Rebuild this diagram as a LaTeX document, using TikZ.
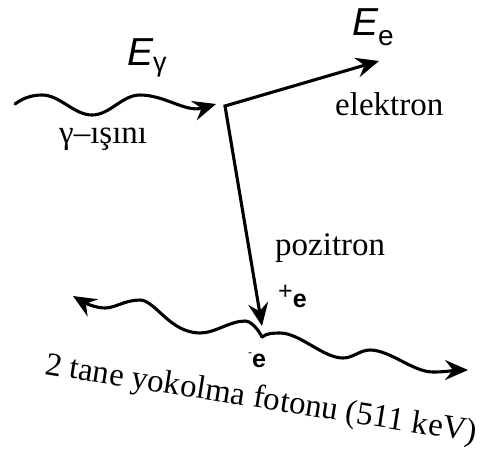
\documentclass[tikz,border=0pt]{standalone}
\usepackage{fontspec}
\setmainfont{Liberation Serif}
\newfontfamily\hv{Liberation Sans}
\usetikzlibrary{arrows.meta, positioning}

\newcommand{\fs}[1]{\fontsize{#1}{#1}\selectfont}

\begin{document}
\begin{tikzpicture}[x=1pt, y=-1pt, line cap=round,
  >={Stealth[length=23pt, width=20pt, inset=8pt]},
  ray/.style={line width=3.1pt, ->},
  lbl/.style={inner sep=0pt, anchor=base west, font=\fs{33}}]
  \useasboundingbox (0,0) rectangle (497,459);

  \coordinate (gin) at (15,104);
  \coordinate (gtip) at (216,104);
  \coordinate (vertex) at (225,106);
  \coordinate (etip) at (379,61);
  \coordinate (ptip) at (262,326);
  \coordinate (kink) at (262,337);
  \coordinate (lend) at (73,296);
  \coordinate (rend) at (468,370);

  \node[lbl] (Eg) at (127,65) {\hv\fs{39}\itshape E\raisebox{-6pt}{\fs{27}\upshape γ}};
  \node[lbl] (Ee) at (352,35) {\hv\fs{39}\itshape E\raisebox{-10pt}{\fs{28}\upshape e}};
  \node[lbl, font=\fs{33}] (gray) at (59,143) {γ–ışını};
  \node[lbl] (elec) at (335,115) {elektron};
  \node[lbl] (pos) at (275,255) {pozitron};
  \node[lbl, font=\hv\fs{25}] (pe) at (278,307) {\raisebox{8pt}{+}\textbf{e}};
  \node[lbl, font=\hv\fs{25}] (me) at (248,367) {\raisebox{11pt}{\fs{12}-}\textbf{e}};
  \node[lbl, rotate=-9, font=\fs{32.8}] (ann) at (44,374) {2 tane yokolma fotonu (511 keV)};

  \draw[ray] (gin) .. controls +(8,-6) and +(-10,0) .. ++(27,-9)
    .. controls +(18,0) and +(-18,0) .. ++(50,20)
    .. controls +(18,0) and +(-18,0) .. ++(48,-20)
    .. controls +(25,0) and +(-30,9) .. (gtip);
  \draw[ray, <->] (ptip) -- (vertex) -- (etip);
  \draw[ray] (kink) .. controls +(-4,-8) and +(6,0) .. ++(-17,-16)
    .. controls +(-15,0) and +(15,0) .. ++(-45,12)
    .. controls +(-30,0) and +(15,0) .. ++(-60,-33)
    .. controls +(-15,0) and +(10,0) .. ++(-35,8)
    .. controls +(-10,0) and +(10,6) .. (lend);
  \draw[ray] (kink) .. controls +(5,-4) and +(-6,0) .. ++(18,-4)
    .. controls +(20,0) and +(-20,0) .. ++(63,25)
    .. controls +(10,0) and +(-10,0) .. ++(27,-8)
    .. controls +(20,0) and +(-20,0) .. ++(63,22)
    .. controls +(15,0) and +(-12,0) .. (rend);
\end{tikzpicture}
\end{document}
